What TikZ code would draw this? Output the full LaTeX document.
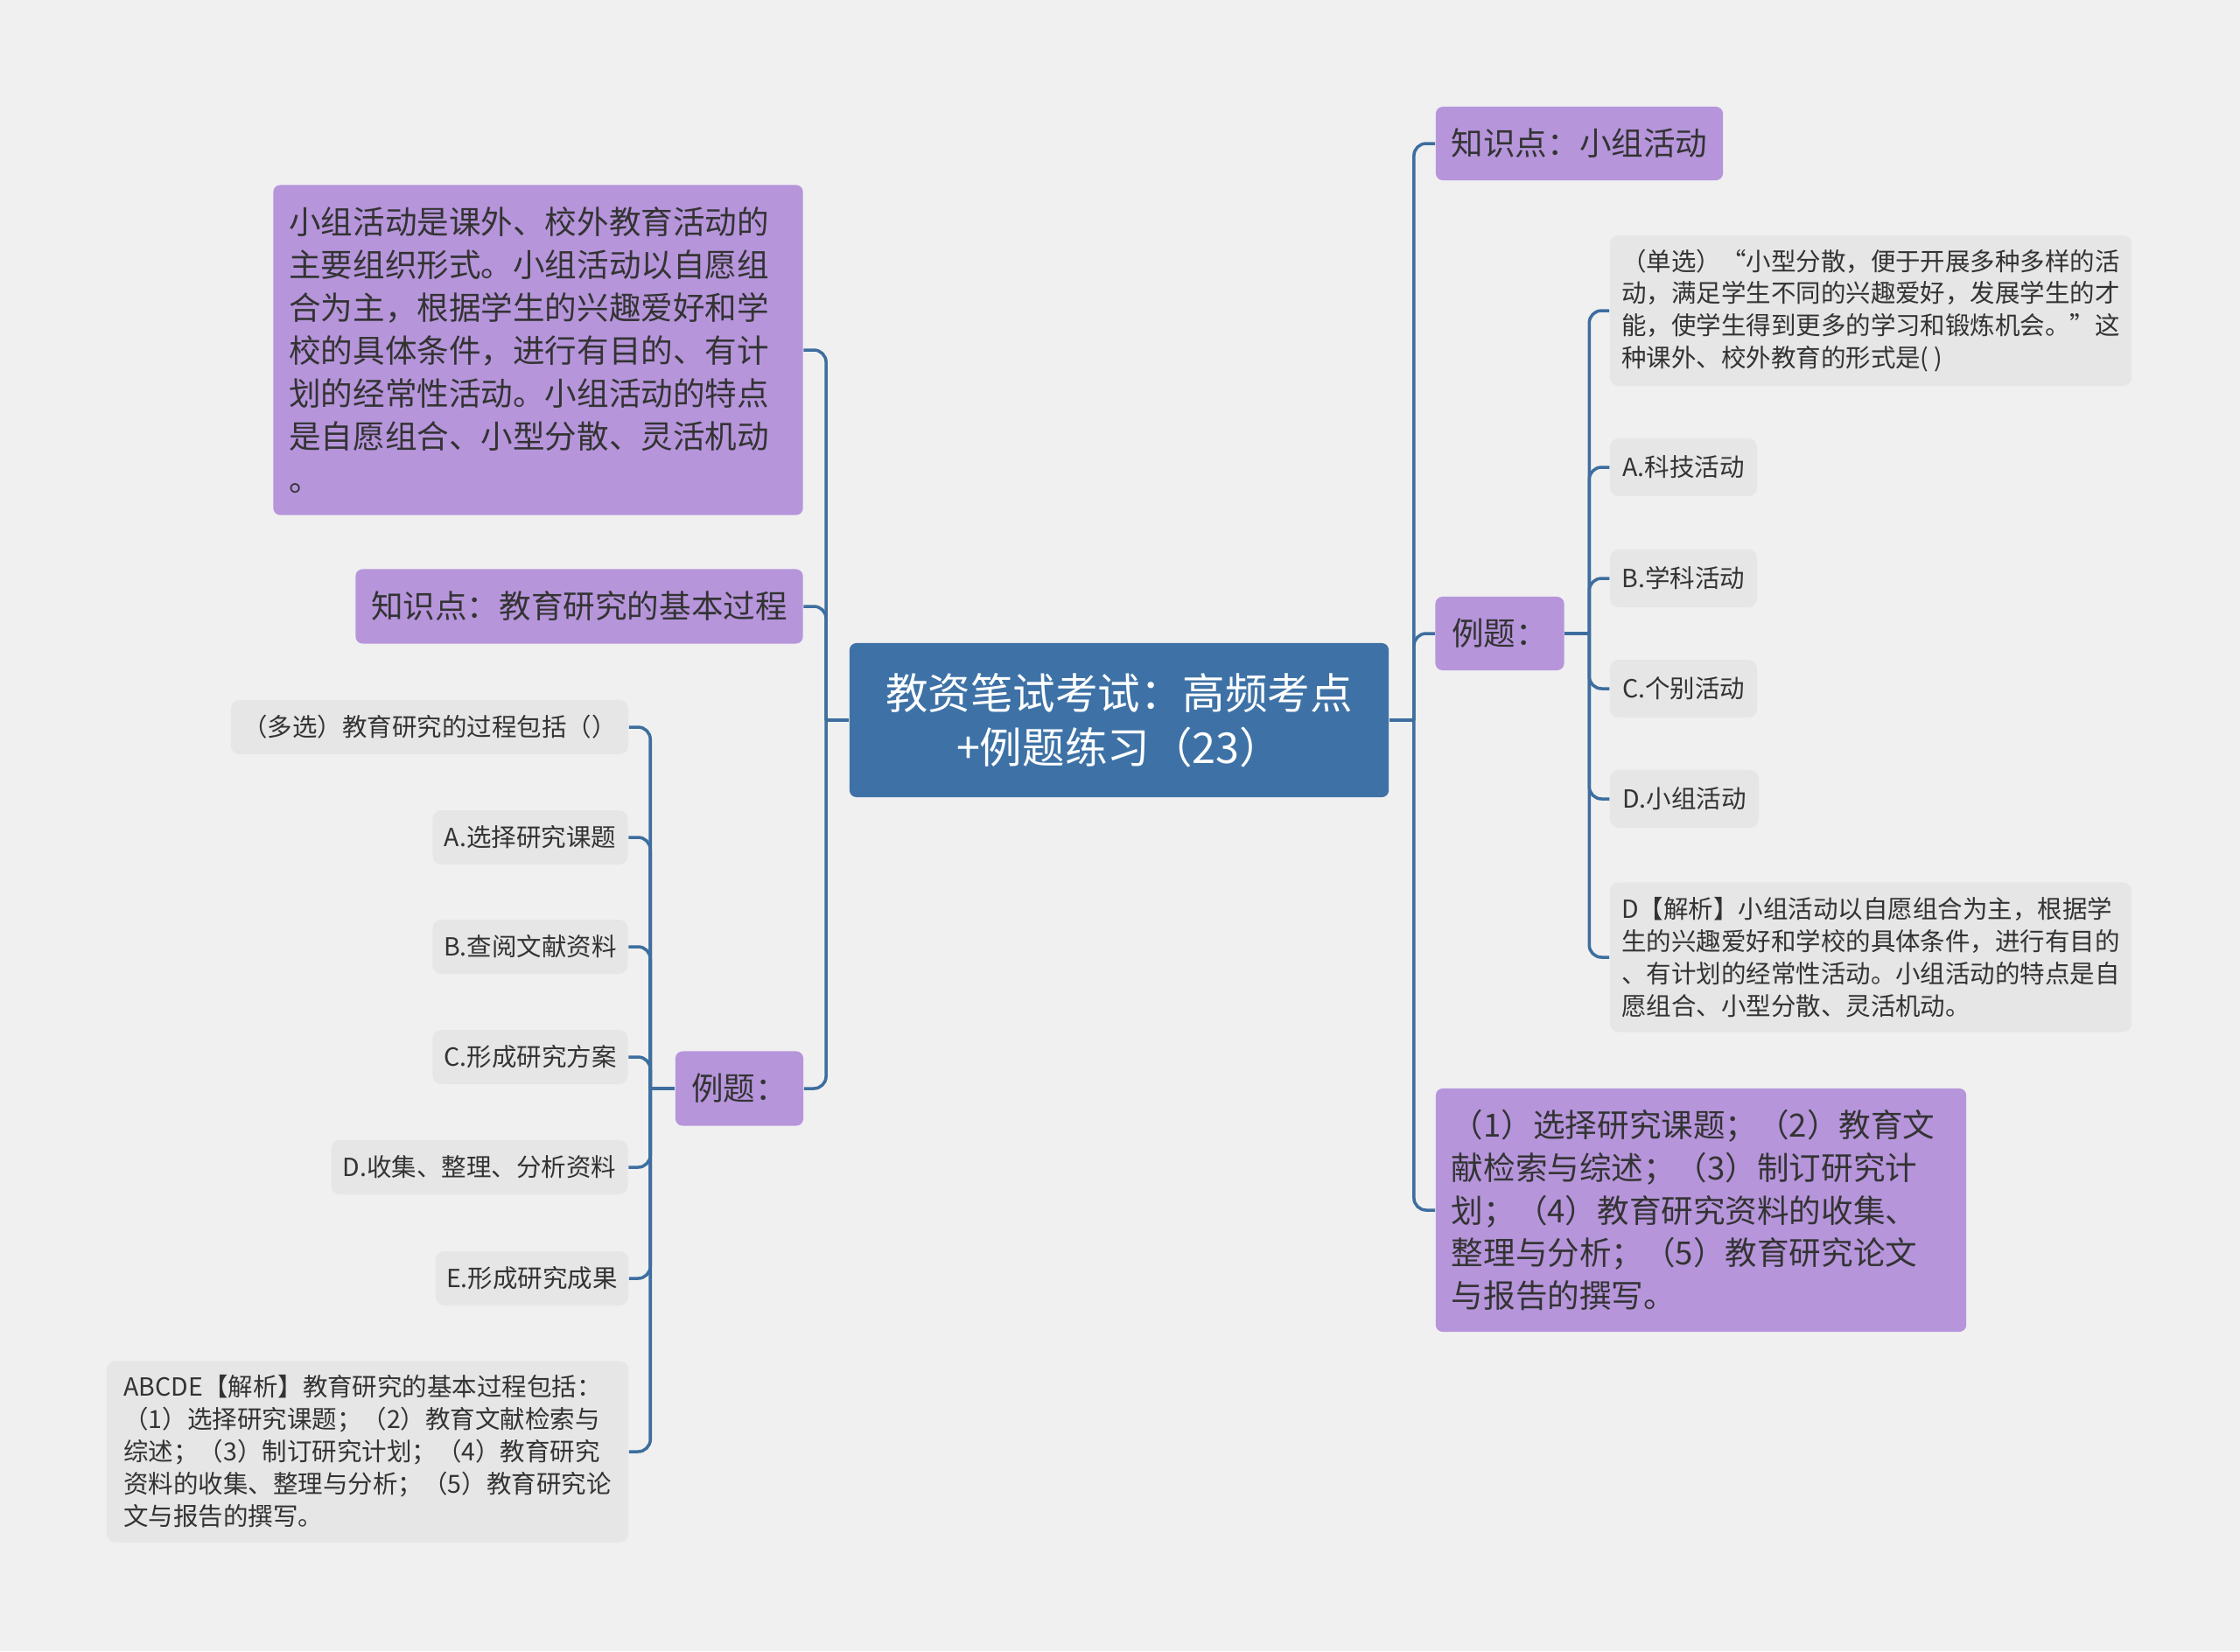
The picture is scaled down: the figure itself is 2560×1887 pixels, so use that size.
\documentclass[tikz,border=0pt]{standalone}
\usepackage{fontspec}
\setmainfont{Noto Sans CJK SC}
\usepackage{tikz}
\usetikzlibrary{positioning}
\definecolor{bgGray}{HTML}{F0F0F0}
\definecolor{rootBlue}{HTML}{3E72A6}
\definecolor{topicPurple}{HTML}{B695DB}
\definecolor{leafGray}{HTML}{E6E6E6}
\definecolor{linkBlue}{HTML}{3D6E9F}
\definecolor{txtGray}{HTML}{333333}

\begin{document}
\begin{tikzpicture}[x=0.01cm, y=-0.01cm,
    root/.style={fill=rootBlue, text=white, rounded corners=0.08cm, align=center, inner sep=0pt,
        font=\fontsize{13.8pt}{17.6pt}\selectfont},
    topic/.style={fill=topicPurple, text=txtGray, rounded corners=0.08cm, align=left, inner sep=0pt,
        font=\fontsize{10.4pt}{13.9pt}\selectfont},
    leaf/.style={fill=leafGray, text=txtGray, rounded corners=0.1cm, align=left, inner sep=0pt,
        font=\fontsize{8.1pt}{10.5pt}\selectfont},
    link/.style={draw=linkBlue, line width=1pt},
    branch/.style={link, rounded corners=0.14cm}]

    % canvas
    \useasboundingbox (0,0) rectangle (2560,1887);
    \fill[bgGray] (0,0) rectangle (2560,1887);

    % centre
    \node[root, minimum width=6.16cm, minimum height=1.76cm] (main) at (1279,823)
        {教资笔试考试：高频考点\\+例题练习（23）};

    % right branch
    \node[topic, minimum width=3.28cm, minimum height=0.84cm] (kpGroup) at (1805,164) {知识点：小组活动};
    \node[topic, minimum width=1.47cm, minimum height=0.84cm] (exRight) at (1714,724) {例题：};
    \node[topic, inner xsep=0.18cm, text width=5.70cm, minimum height=2.78cm] (sumSteps) at (1944,1383)
        {（1）选择研究课题；（2）教育文\\献检索与综述；（3）制订研究计\\划；（4）教育研究资料的收集、\\整理与分析；（5）教育研究论文\\与报告的撰写。};

    \node[leaf, minimum width=5.96cm, minimum height=1.72cm] (qSingle) at (2138,355)
        {（单选）“小型分散，便于开展多种多样的活\\动，满足学生不同的兴趣爱好，发展学生的才\\能，使学生得到更多的学习和锻炼机会。”这\\种课外、校外教育的形式是( )};
    \node[leaf, minimum width=1.68cm, minimum height=0.66cm] (optA) at (1924,534) {A.科技活动};
    \node[leaf, minimum width=1.68cm, minimum height=0.66cm] (optB) at (1924,661) {B.学科活动};
    \node[leaf, minimum width=1.68cm, minimum height=0.66cm] (optC) at (1924,787) {C.个别活动};
    \node[leaf, minimum width=1.70cm, minimum height=0.66cm] (optD) at (1925,913) {D.小组活动};
    \node[leaf, minimum width=5.96cm, minimum height=1.71cm] (ansSingle) at (2138,1094)
        {D【解析】小组活动以自愿组合为主，根据学\\生的兴趣爱好和学校的具体条件，进行有目的\\、有计划的经常性活动。小组活动的特点是自\\愿组合、小型分散、灵活机动。};

    % left branch
    \node[topic, inner xsep=0.18cm, text width=5.69cm, minimum height=3.77cm] (defGroup) at (615,400)
        {小组活动是课外、校外教育活动的\\主要组织形式。小组活动以自愿组\\合为主，根据学生的兴趣爱好和学\\校的具体条件，进行有目的、有计\\划的经常性活动。小组活动的特点\\是自愿组合、小型分散、灵活机动\\。};
    \node[topic, minimum width=5.11cm, minimum height=0.85cm] (kpProcess) at (662,693) {知识点：教育研究的基本过程};
    \node[topic, minimum width=1.46cm, minimum height=0.85cm] (exLeft) at (845,1244) {例题：};

    \node[leaf, minimum width=4.54cm, minimum height=0.62cm] (qMulti) at (491,831) {（多选）教育研究的过程包括（）};
    \node[leaf, minimum width=2.23cm, minimum height=0.62cm] (stepA) at (606,957) {A.选择研究课题};
    \node[leaf, minimum width=2.23cm, minimum height=0.62cm] (stepB) at (606,1082) {B.查阅文献资料};
    \node[leaf, minimum width=2.23cm, minimum height=0.62cm] (stepC) at (606,1208) {C.形成研究方案};
    \node[leaf, minimum width=3.39cm, minimum height=0.62cm] (stepD) at (548,1334) {D.收集、整理、分析资料};
    \node[leaf, minimum width=2.20cm, minimum height=0.62cm] (stepE) at (608,1461) {E.形成研究成果};
    \node[leaf, minimum width=5.96cm, minimum height=2.07cm] (ansMulti) at (420,1659)
        {ABCDE【解析】教育研究的基本过程包括：\\（1）选择研究课题；（2）教育文献检索与\\综述；（3）制订研究计划；（4）教育研究\\资料的收集、整理与分析；（5）教育研究论\\文与报告的撰写。};

    % junctions
    \coordinate[right=0.28cm of main] (rj);
    \coordinate[left=0.26cm of main] (lj);
    \coordinate[right=0.28cm of exRight] (rsj);
    \coordinate[left=0.28cm of exLeft] (lsj);

    % right links
    \draw[link] (main.east) -- (rj);
    \draw[branch] (rj) |- (kpGroup.west);
    \draw[branch] (rj) |- (exRight.west);
    \draw[branch] (rj) |- (sumSteps.west);
    \draw[link] (exRight.east) -- (rsj);
    \draw[branch] (rsj) |- (qSingle.west);
    \draw[branch] (rsj) |- (optA.west);
    \draw[branch] (rsj) |- (optB.west);
    \draw[branch] (rsj) |- (optC.west);
    \draw[branch] (rsj) |- (optD.west);
    \draw[branch] (rsj) |- (ansSingle.west);

    % left links
    \draw[link] (main.west) -- (lj);
    \draw[branch] (lj) |- (defGroup.east);
    \draw[branch] (lj) |- (kpProcess.east);
    \draw[branch] (lj) |- (exLeft.east);
    \draw[link] (exLeft.west) -- (lsj);
    \draw[branch] (lsj) |- (qMulti.east);
    \draw[branch] (lsj) |- (stepA.east);
    \draw[branch] (lsj) |- (stepB.east);
    \draw[branch] (lsj) |- (stepC.east);
    \draw[branch] (lsj) |- (stepD.east);
    \draw[branch] (lsj) |- (stepE.east);
    \draw[branch] (lsj) |- (ansMulti.east);
\end{tikzpicture}
\end{document}
